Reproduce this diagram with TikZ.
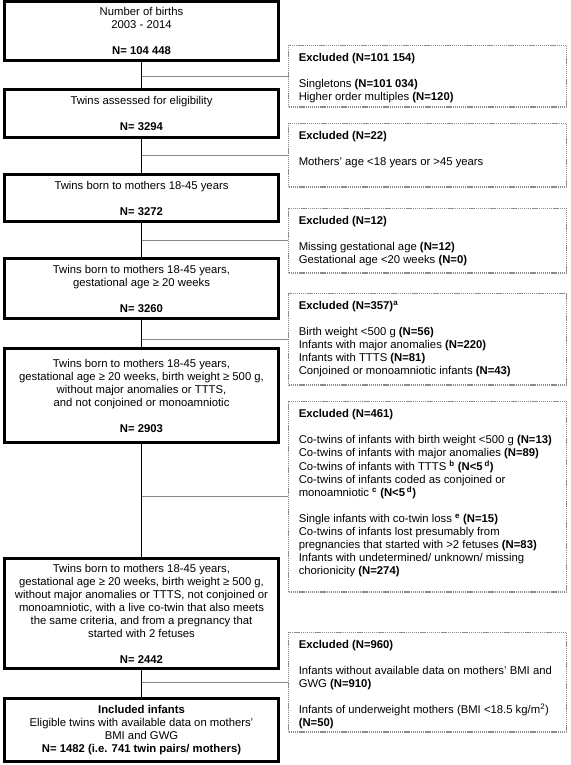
\documentclass[tikz,border=0pt]{standalone}
\usepackage{fontspec}
\setmainfont{Liberation Sans}
\usetikzlibrary{positioning}
\definecolor{flowgray}{RGB}{135,135,135}
\definecolor{dotgray}{RGB}{140,140,140}
\newcommand{\exlist}[2]{\parbox[c][#1][t]{258pt}{\begin{tabular}{@{}l@{}}#2\end{tabular}}}
\tikzset{
  mainbox/.style={draw, line width=2.6pt, minimum width=274.4pt, align=center,
                  font=\fontsize{11.3}{13}\selectfont, inner sep=3pt},
  exbox/.style={draw=dotgray, line width=1.4pt, dash pattern=on 1.3pt off 0.8pt,
                anchor=north, inner xsep=10pt, inner ysep=7pt,
                font=\fontsize{11.3}{13}\selectfont},
  flowline/.style={line width=1.8pt},
  sideline/.style={draw=flowgray, line width=0.9pt},
}

\begin{document}
\begin{tikzpicture}[x=1pt, y=-1pt]
\useasboundingbox (0,0) rectangle (570,765);

% ================= main column =================
\node[mainbox, minimum height=59.4pt] (b1) at (141.5,31)
  {Number of births\\2003 - 2014\\[13pt]\textbf{N= 104 448}};
\node[mainbox, minimum height=48.4pt] (b2) at (141.5,113.5)
  {Twins assessed for eligibility\\[13pt]\textbf{N= 3294}};
\node[mainbox, minimum height=47.4pt] (b3) at (141.5,198)
  {Twins born to mothers 18-45 years\\[13pt]\textbf{N= 3272}};
\node[mainbox, minimum height=60.4pt] (b4) at (141.5,288.5)
  {Twins born to mothers 18-45 years,\\gestational age ≥ 20 weeks\\[13pt]\textbf{N= 3260}};
\node[mainbox, minimum height=94.4pt] (b5) at (141.5,395.5)
  {Twins born to mothers 18-45 years,\\
   gestational age ≥ 20 weeks, birth weight ≥ 500 g,\\
   without major anomalies or TTTS,\\
   and not conjoined or monoamniotic\\[13pt]\textbf{N= 2903}};
\node[mainbox, minimum height=110.4pt] (b6) at (141.5,613.5)
  {Twins born to mothers 18-45 years,\\
   gestational age ≥ 20 weeks, birth weight ≥ 500 g,\\
   without major anomalies or TTTS, not conjoined or\\
   monoamniotic, with a live co-twin that also meets\\
   the same criteria, and from a pregnancy that\\
   started with 2 fetuses\\[13pt]\textbf{N= 2442}};
\node[mainbox, minimum height=63.4pt] (b7) at (141.5,730)
  {\textbf{Included infants}\\
   Eligible twins with available data on mothers'\\
   BMI and GWG\\
   \textbf{N= 1482 (i.e. 741 twin pairs/ mothers)}};

% ================= exclusions =================
\node[exbox] (d1) at (427.75,44.6) {\exlist{47.7pt}{
  \textbf{Excluded (N=101 154)}\\[13pt]
  Singletons \textbf{(N=101 034)}\\
  Higher order multiples \textbf{(N=120)}}};
\node[exbox] (d2) at (427.75,122.6) {\exlist{49.7pt}{
  \textbf{Excluded (N=22)}\\[13pt]
  Mothers' age <18 years or >45 years}};
\node[exbox] (d3) at (427.75,207.6) {\exlist{50.7pt}{
  \textbf{Excluded (N=12)}\\[13pt]
  Missing gestational age \textbf{(N=12)}\\
  Gestational age <20 weeks \textbf{(N=0)}}};
\node[exbox] (d4) at (427.75,292.6) {\exlist{77.7pt}{
  \textbf{Excluded (N=357)\textsuperscript{a}}\\[13pt]
  Birth weight <500 g \textbf{(N=56)}\\
  Infants with major anomalies \textbf{(N=220)}\\
  Infants with TTTS \textbf{(N=81)}\\
  Conjoined or monoamniotic infants \textbf{(N=43)}}};
\node[exbox] (d5) at (427.75,400.6) {\exlist{176.7pt}{
  \textbf{Excluded (N=461)}\\[13pt]
  Co-twins of infants with birth weight <500 g \textbf{(N=13)}\\
  Co-twins of infants with major anomalies \textbf{(N=89)}\\
  Co-twins of infants with TTTS \textsuperscript{\textbf{b}} \textbf{(N<5\,\textsuperscript{d})}\\
  Co-twins of infants coded as conjoined or\\
  monoamniotic \textsuperscript{\textbf{c}} \textbf{(N<5\,\textsuperscript{d})}\\[13pt]
  Single infants with co-twin loss \textsuperscript{\textbf{e}} \textbf{(N=15)}\\
  Co-twins of infants lost presumably from\\
  pregnancies that started with >2 fetuses \textbf{(N=83)}\\
  Infants with undetermined/ unknown/ missing\\
  chorionicity \textbf{(N=274)}}};
\node[exbox] (d6) at (427.75,631.6) {\exlist{85.7pt}{
  \textbf{Excluded (N=960)}\\[13pt]
  Infants without available data on mothers' BMI and\\
  GWG \textbf{(N=910)}\\[13pt]
  Infants of underweight mothers (BMI <18.5 kg/m\textsuperscript{2})\\
  \textbf{(N=50)}}};

% ================= connectors =================
\foreach \b/\d in {b1/d1, b2/d2, b3/d3, b4/d4, b5/d5, b6/d6}
  \draw[sideline] (\b |- \d) -- (\d);
\foreach \a/\b in {b1/b2, b2/b3, b3/b4, b4/b5, b5/b6, b6/b7}
  \draw[flowline] (\a) -- (\b);
\end{tikzpicture}
\end{document}
